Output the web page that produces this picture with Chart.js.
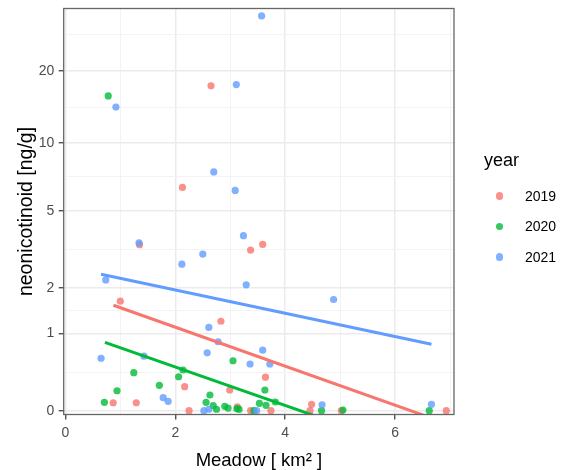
<!DOCTYPE html>
<html>
<head>
<meta charset="utf-8">
<script src="https://cdn.jsdelivr.net/npm/chart.js@4.4.1/dist/chart.umd.min.js"></script>
<style>
  body { margin: 0; background: #fff; font-family: "Liberation Sans", Arial, sans-serif; }
  #wrap { position: relative; width: 567px; height: 470px; }
  #legenda { position: absolute; left: 484px; top: 149px; color: #000; }
  #legenda .titulo { font-size: 18px; line-height: 22px; margin-bottom: 9.6px; }
  #legenda .item { position: relative; height: 30.5px; line-height: 30.5px; font-size: 14px; padding-left: 41px; }
  #legenda .ponto { position: absolute; left: 11.6px; top: 50%; width: 7.4px; height: 7.4px; margin-top: -3.7px; border-radius: 50%; }
</style>
</head>
<body>
<div id="wrap">
  <canvas id="grafico" width="567" height="470"></canvas>
  <div id="legenda"></div>
</div>
<script>
// groups
const anos = ["2019", "2020", "2021"];
const cores = ["#F8766D", "#00BA38", "#619CFF"];
const coresPonto = ["rgba(248,118,109,0.8)", "rgba(0,186,56,0.8)", "rgba(97,156,255,0.8)"];

// meadow area [km2] and neonicotinoid [ng/g] per site
const meadow2019 = [2.65, 2.13, 3.59, 3.37, 1.35, 1.00, 2.83, 3.64, 2.17, 2.99, 0.87, 1.29, 2.25, 3.13, 3.37, 3.74, 4.48, 4.45, 5.02, 6.93];
const neonic2019 = [17.4, 6.4, 3.44, 3.22, 3.43, 1.67, 1.23, 0.35, 0.24, 0.204, 0.074, 0.074, 0, 0.036, 0, 0, 0.059, 0, 0, 0];

const meadow2020 = [0.78, 3.05, 1.245, 2.14, 2.06, 1.71, 0.94, 0.71, 2.63, 2.56, 2.69, 2.75, 2.90, 2.96, 3.12, 3.16, 3.43, 3.63, 3.53, 3.65, 3.82, 4.66, 5.05, 6.62];
const neonic2020 = [15.8, 0.565, 0.406, 0.44, 0.356, 0.256, 0.196, 0.078, 0.151, 0.078, 0.046, 0.013, 0.04, 0.024, 0.018, 0.012, 0, 0.204, 0.068, 0.049, 0.081, 0, 0.006, 0];

const meadow2021 = [3.57, 3.11, 0.92, 2.70, 3.09, 3.24, 1.34, 2.50, 2.12, 0.735, 3.29, 4.88, 2.61, 2.78, 3.59, 0.65, 2.58, 1.43, 3.36, 3.72, 1.78, 1.87, 2.52, 2.61, 3.48, 4.67, 6.66];
const neonic2021 = [33.4, 17.6, 14.2, 7.5, 6.2, 3.80, 3.50, 3.07, 2.72, 2.23, 2.09, 1.71, 1.11, 0.855, 0.72, 0.60, 0.68, 0.63, 0.52, 0.52, 0.124, 0.088, 0, 0.013, 0, 0.055, 0.059];

// fitted lines (lm on log1p scale), start and end of each group
const ajusteX2019 = [0.875, 6.93];
const ajusteY2019 = [1.573, -0.107];
const ajusteX2020 = [0.72, 6.62];
const ajusteY2020 = [0.846, -0.333];
const ajusteX2021 = [0.65, 6.66];
const ajusteY2021 = [2.397, 0.813];

// axis breaks
const yTicks = [0, 1, 2, 5, 10, 20];
const xTicks = [0, 2, 4, 6];
const xTicksMenores = [1, 3, 5, 7];

// y axis is log(1 + y)
const trans = v => Math.log1p(v);

const meadow = [meadow2019, meadow2020, meadow2021];
const neonic = [neonic2019, neonic2020, neonic2021];
const ajusteX = [ajusteX2019, ajusteX2020, ajusteX2021];
const ajusteY = [ajusteY2019, ajusteY2020, ajusteY2021];

// minor breaks halfway between majors (in transformed space)
const yMajores = yTicks.map(trans);
const yMenores = [];
for (let i = 1; i < yMajores.length; i++) {
    yMenores.push((yMajores[i - 1] + yMajores[i]) / 2);
}
yMenores.push(yMajores[yMajores.length - 1] + (yMajores[yMajores.length - 1] - yMajores[yMajores.length - 2]) / 2);

const datasets = [];
anos.forEach((ano, g) => {
    datasets.push({
        type: 'line',
        label: 'fit ' + ano,
        data: ajusteX[g].map((x, i) => ({ x: x, y: trans(ajusteY[g][i]) })),
        borderColor: cores[g],
        borderWidth: 3,
        pointRadius: 0,
        fill: false,
        order: 0
    });
    datasets.push({
        type: 'scatter',
        label: ano,
        data: meadow[g].map((x, i) => ({ x: x, y: trans(neonic[g][i]) })),
        backgroundColor: coresPonto[g],
        borderWidth: 0,
        pointRadius: 3.6,
        order: 3 - g,
        clip: false
    });
});

const ehMaior = (lista, v) => lista.some(m => Math.abs(m - v) < 1e-9);

// panel border drawn on top
const moldura = {
    id: 'moldura',
    afterDatasetsDraw(chart) {
        const { ctx, chartArea: a } = chart;
        ctx.save();
        ctx.strokeStyle = '#666666';
        ctx.lineWidth = 1.3;
        ctx.strokeRect(a.left, a.top, a.right - a.left, a.bottom - a.top);
        ctx.restore();
    }
};

const fonte = '"Liberation Sans", Arial, sans-serif';

const grafico = new Chart(document.getElementById('grafico').getContext('2d'), {
    type: 'scatter',
    data: { datasets: datasets },
    options: {
        responsive: false,
        animation: false,
        devicePixelRatio: 1,
        layout: { padding: { top: 8.5, right: 113, left: 0, bottom: 0 } },
        plugins: { legend: { display: false }, tooltip: { enabled: false } },
        scales: {
            x: {
                type: 'linear',
                min: -0.03,
                max: 7.07,
                afterBuildTicks: s => { s.ticks = xTicks.concat(xTicksMenores).sort((a, b) => a - b).map(v => ({ value: v })); },
                afterFit: s => { s.height = 55.5; s.paddingLeft = 0; s.paddingRight = 0; },
                border: { display: false },
                grid: {
                    color: c => c.tick && ehMaior(xTicks, c.tick.value) ? '#EBEBEB' : '#F3F3F3',
                    lineWidth: c => c.tick && ehMaior(xTicks, c.tick.value) ? 1.5 : 1,
                    tickColor: c => c.tick && ehMaior(xTicks, c.tick.value) ? '#333333' : 'rgba(0,0,0,0)',
                    tickLength: 5,
                    tickWidth: 1.2
                },
                ticks: {
                    autoSkip: false,
                    maxRotation: 0,
                    padding: 5,
                    color: '#4D4D4D',
                    font: { family: fonte, size: 14 },
                    callback: v => ehMaior(xTicks, v) ? String(v) : ''
                },
                title: {
                    display: true,
                    text: 'Meadow [ km\u00B2 ]',
                    color: '#000',
                    font: { family: fonte, size: 18.5, lineHeight: 1 },
                    padding: { top: 0, bottom: 0 }
                }
            },
            y: {
                type: 'linear',
                min: -0.034,
                max: 3.605,
                afterBuildTicks: s => { s.ticks = yMajores.concat(yMenores).sort((a, b) => a - b).map(v => ({ value: v })); },
                afterFit: s => { s.width = 63.7; s.paddingTop = 0; s.paddingBottom = 0; },
                border: { display: false },
                grid: {
                    color: c => c.tick && ehMaior(yMajores, c.tick.value) ? '#EBEBEB' : '#F3F3F3',
                    lineWidth: c => c.tick && ehMaior(yMajores, c.tick.value) ? 1.5 : 1,
                    tickColor: c => c.tick && ehMaior(yMajores, c.tick.value) ? '#333333' : 'rgba(0,0,0,0)',
                    tickLength: 5,
                    tickWidth: 1.2
                },
                ticks: {
                    autoSkip: false,
                    padding: 4.5,
                    color: '#4D4D4D',
                    font: { family: fonte, size: 14 },
                    callback: v => {
                        const i = yMajores.findIndex(m => Math.abs(m - v) < 1e-9);
                        return i >= 0 ? String(yTicks[i]) : '';
                    }
                },
                title: {
                    display: true,
                    text: 'neonicotinoid [ng/g]',
                    color: '#000',
                    font: { family: fonte, size: 19.5, lineHeight: 1.2 },
                    padding: { top: 15, bottom: 0 }
                }
            }
        }
    },
    plugins: [moldura]
});

// html legend from the point datasets
const legenda = document.getElementById('legenda');
let html = '<div class="titulo">year</div>';
anos.forEach((ano, g) => {
    html += '<div class="item"><span class="ponto" style="background:' + coresPonto[g] + '"></span>' + ano + '</div>';
});
legenda.innerHTML = html;
</script>
</body>
</html>
